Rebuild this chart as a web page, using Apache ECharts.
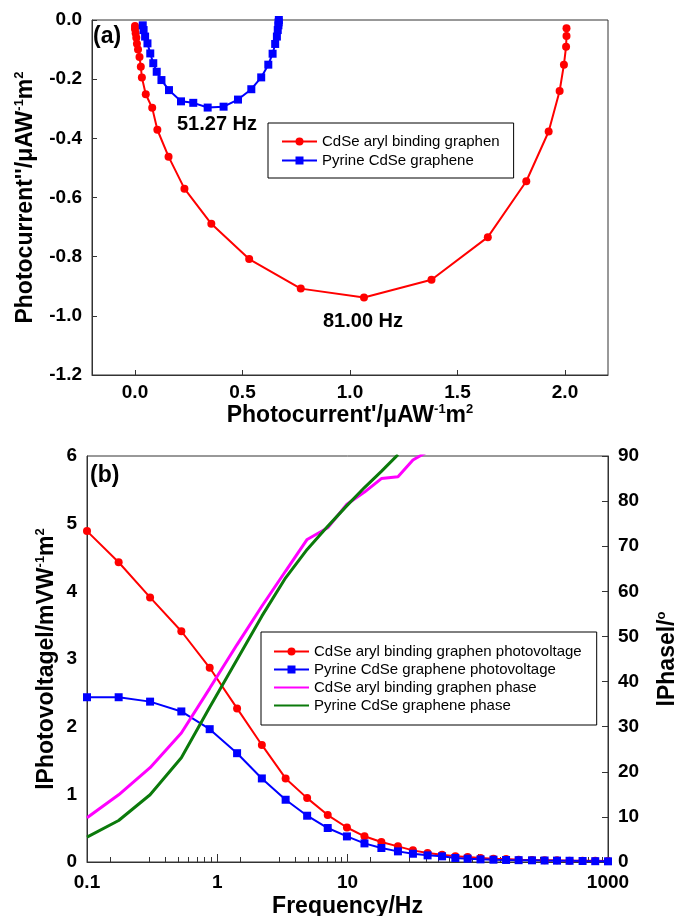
<!DOCTYPE html>
<html>
<head>
<meta charset="utf-8">
<script src="https://cdn.jsdelivr.net/npm/echarts@6.0.0/dist/echarts.min.js"></script>
<style>
html,body{margin:0;padding:0;background:#fff;}
#main{width:675px;height:916px;}
</style>
</head>
<body>
<div id="main"></div>
<script>
// ---- Panel (a): Nyquist-type plot ----
const aRedRe  = [0.000, 0.000, 0.003, 0.006, 0.009, 0.014, 0.021, 0.027, 0.032, 0.050, 0.080, 0.104, 0.156, 0.230, 0.355, 0.531, 0.771, 1.065, 1.379, 1.641, 1.820, 1.924, 1.975, 1.995, 2.005, 2.007, 2.007];
const aRedIm  = [-0.020, -0.030, -0.045, -0.060, -0.080, -0.100, -0.125, -0.158, -0.194, -0.251, -0.297, -0.371, -0.462, -0.570, -0.689, -0.808, -0.908, -0.938, -0.878, -0.734, -0.545, -0.377, -0.240, -0.151, -0.090, -0.054, -0.028];
const aBlueRe = [0.036, 0.040, 0.047, 0.058, 0.071, 0.085, 0.101, 0.123, 0.158, 0.214, 0.271, 0.338, 0.412, 0.479, 0.541, 0.587, 0.620, 0.640, 0.652, 0.660, 0.664, 0.667, 0.668, 0.669];
const aBlueIm = [-0.018, -0.034, -0.056, -0.079, -0.113, -0.146, -0.175, -0.203, -0.237, -0.275, -0.280, -0.296, -0.293, -0.269, -0.234, -0.194, -0.151, -0.114, -0.081, -0.056, -0.034, -0.018, -0.008, 0.000];
const aXTicks = [0, 0.5, 1, 1.5, 2];

// ---- Panel (b): Bode-type plot ----
const freq = [0.1, 0.175, 0.305, 0.53, 0.875, 1.42, 2.2, 3.35, 4.9, 7.05, 9.9, 13.5, 18.2, 24.4, 31.8, 41.2, 53.2, 67.3, 83.6, 105, 132, 165, 206, 261, 326, 406, 507, 638, 798, 1000];
const redPV  = [4.89, 4.43, 3.91, 3.41, 2.87, 2.27, 1.73, 1.235, 0.944, 0.694, 0.51, 0.38, 0.295, 0.231, 0.172, 0.133, 0.108, 0.084, 0.074, 0.059, 0.049, 0.044, 0.034, 0.030, 0.025, 0.025, 0.020, 0.020, 0.020, 0.015];
const bluePV = [2.435, 2.435, 2.37, 2.225, 1.963, 1.608, 1.235, 0.92, 0.684, 0.502, 0.378, 0.275, 0.207, 0.157, 0.122, 0.098, 0.084, 0.059, 0.049, 0.039, 0.034, 0.030, 0.027, 0.025, 0.022, 0.020, 0.018, 0.015, 0.012, 0.010];
const magentaPhase = [9.8, 14.9, 20.9, 28.6, 38.5, 48.2, 56.7, 64.5, 71.5, 74.1, 79.3, 82.0, 85.0, 85.4, 89.1, 91.0];
const greenPhase   = [5.5, 9.2, 14.9, 23.1, 34.3, 44.9, 54.5, 63.0, 69.3, 74.4, 79.0, 83.0, 86.6, 90.3];
const bMinorTicks = [0.15, 0.3, 0.4, 0.5, 0.6, 0.7, 0.8, 0.9, 1.5, 3, 4, 5, 6, 7, 8, 9, 15, 30, 40, 50, 60, 70, 80, 90, 150, 300, 400, 500, 600, 700, 800, 900];

const names = {
  aRed: 'CdSe aryl binding graphen',
  aBlue: 'Pyrine CdSe graphene',
  bRed: 'CdSe aryl binding graphen photovoltage',
  bBlue: 'Pyrine CdSe graphene photovoltage',
  bMag: 'CdSe aryl binding graphen phase',
  bGreen: 'Pyrine CdSe graphene phase'
};

const F = '"Liberation Sans", Arial, Helvetica, sans-serif';
const AX = '#333';
const labelStyle = {color: '#000', fontSize: 19, fontWeight: 'bold', fontFamily: F};
const titleStyle = {
  color: '#000', fontSize: 23, fontWeight: 'bold', fontFamily: F, lineHeight: 25,
  rich: { s: {fontSize: 13, fontWeight: 'bold', fontFamily: F, color: '#000', verticalAlign: 'top', lineHeight: 25} }
};
const hiddenSymbol = {opacity: 0, color: 'rgba(0,0,0,0)', borderWidth: 0};

const pairs = (xs, ys) => ys.map((y, i) => [xs[i], y]);

const chart = echarts.init(document.getElementById('main'), null, {renderer: 'canvas'});
chart.setOption({
  animation: false,
  backgroundColor: '#fff',
  grid: [
    {left: 92, top: 20, width: 516, height: 355, show: true, borderColor: AX, borderWidth: 1, backgroundColor: 'transparent', outerBoundsMode: 'none', containLabel: false},
    {left: 87, top: 456, width: 521, height: 406, show: true, borderColor: AX, borderWidth: 1, backgroundColor: 'transparent', outerBoundsMode: 'none', containLabel: false}
  ],
  legend: [
    {
      data: [names.aRed, names.aBlue],
      orient: 'vertical', left: 268, top: 123,
      padding: [11, 14, 10, 13], itemGap: 4, itemWidth: 35, itemHeight: 10,
      borderColor: '#000', borderWidth: 1, backgroundColor: '#fff',
      textStyle: {color: '#000', fontSize: 15, fontFamily: F}
    },
    {
      data: [names.bRed, names.bBlue, {name: names.bMag, itemStyle: hiddenSymbol}, {name: names.bGreen, itemStyle: hiddenSymbol}],
      orient: 'vertical', left: 261, top: 632,
      padding: [12, 15, 12, 12], itemGap: 3, itemWidth: 35, itemHeight: 10,
      borderColor: '#000', borderWidth: 1, backgroundColor: '#fff',
      textStyle: {color: '#000', fontSize: 15, fontFamily: F}
    }
  ],
  xAxis: [
    {
      gridIndex: 0, type: 'value', min: -0.2, max: 2.2,
      axisLine: {onZero: false, lineStyle: {color: AX, width: 1}},
      axisTick: {inside: true, length: 5, customValues: aXTicks, lineStyle: {color: AX}},
      axisLabel: Object.assign({customValues: aXTicks, margin: 8, formatter: v => v.toFixed(1)}, labelStyle),
      splitLine: {show: false},
      name: "Photocurrent'/μAW{s|-1}m{s|2}", nameLocation: 'middle', nameGap: 25,
      nameTextStyle: titleStyle
    },
    {
      gridIndex: 1, type: 'log', logBase: 10, min: 0.1, max: 1000,
      axisLine: {onZero: false, lineStyle: {color: AX, width: 1}},
      axisTick: {inside: true, length: 8, lineStyle: {color: AX}},
      axisLabel: Object.assign({margin: 11, formatter: v => String(v)}, labelStyle),
      splitLine: {show: false},
      name: 'Frequency/Hz', nameLocation: 'middle', nameGap: 32,
      nameTextStyle: titleStyle
    },
    {
      gridIndex: 1, type: 'log', logBase: 10, min: 0.1, max: 1000,
      position: 'top', offset: -406,
      axisLine: {show: false, onZero: false},
      axisTick: {show: true, inside: false, length: 5, customValues: bMinorTicks, lineStyle: {color: AX}},
      axisLabel: {show: false},
      splitLine: {show: false}
    }
  ],
  yAxis: [
    {
      gridIndex: 0, type: 'value', min: -1.2, max: 0, interval: 0.2,
      axisLine: {onZero: false, lineStyle: {color: AX, width: 1}},
      axisTick: {inside: true, length: 5, lineStyle: {color: AX}},
      axisLabel: Object.assign({margin: 10, formatter: v => v.toFixed(1)}, labelStyle),
      splitLine: {show: false},
      name: "Photocurrent''/μAW{s|-1}m{s|2}", nameLocation: 'middle', nameGap: 53,
      nameTextStyle: titleStyle
    },
    {
      gridIndex: 1, type: 'value', min: 0, max: 6, interval: 1,
      axisLine: {onZero: false, lineStyle: {color: AX, width: 1}},
      axisTick: {show: false},
      axisLabel: Object.assign({margin: 10}, labelStyle),
      splitLine: {show: false},
      name: 'lPhotovoltagel/mVW{s|-1}m{s|2}', nameLocation: 'middle', nameGap: 28,
      nameMoveOverlap: false,
      nameTextStyle: titleStyle
    },
    {
      gridIndex: 1, type: 'value', position: 'right', min: 0, max: 90, interval: 10,
      axisLine: {show: true, onZero: false, lineStyle: {color: AX, width: 1}},
      axisTick: {show: true, inside: true, length: 6, lineStyle: {color: AX}},
      axisLabel: Object.assign({margin: 10}, labelStyle),
      splitLine: {show: false},
      name: 'lPhasel/{s|o}', nameLocation: 'middle', nameGap: 47,
      nameTextStyle: titleStyle
    }
  ],
  series: [
    {
      name: names.aRed, type: 'line', xAxisIndex: 0, yAxisIndex: 0,
      data: pairs(aRedRe, aRedIm),
      symbol: 'circle', symbolSize: 8, showAllSymbol: true,
      lineStyle: {color: '#ff0000', width: 2}, itemStyle: {color: '#ff0000'}
    },
    {
      name: names.aBlue, type: 'line', xAxisIndex: 0, yAxisIndex: 0,
      data: pairs(aBlueRe, aBlueIm),
      symbol: 'rect', symbolSize: 8, showAllSymbol: true,
      lineStyle: {color: '#0000ff', width: 2}, itemStyle: {color: '#0000ff'}
    },
    {
      name: names.bRed, type: 'line', xAxisIndex: 1, yAxisIndex: 1,
      data: pairs(freq, redPV),
      symbol: 'circle', symbolSize: 8, showAllSymbol: true,
      lineStyle: {color: '#ff0000', width: 2}, itemStyle: {color: '#ff0000'}
    },
    {
      name: names.bBlue, type: 'line', xAxisIndex: 1, yAxisIndex: 1,
      data: pairs(freq, bluePV),
      symbol: 'rect', symbolSize: 8, showAllSymbol: true,
      lineStyle: {color: '#0000ff', width: 2}, itemStyle: {color: '#0000ff'}
    },
    {
      name: names.bMag, type: 'line', xAxisIndex: 1, yAxisIndex: 2,
      data: pairs(freq, magentaPhase),
      symbol: 'circle', showSymbol: false, clip: true,
      lineStyle: {color: '#ff00ff', width: 3}, itemStyle: {color: '#ff00ff'}
    },
    {
      name: names.bGreen, type: 'line', xAxisIndex: 1, yAxisIndex: 2,
      data: pairs(freq, greenPhase),
      symbol: 'circle', showSymbol: false, clip: true,
      lineStyle: {color: '#0b7a0b', width: 3}, itemStyle: {color: '#0b7a0b'}
    }
  ],
  graphic: [
    {type: 'text', x: 93, y: 37, z: 100, style: {text: '(a)', fill: '#000', font: 'bold 23px ' + F, verticalAlign: 'middle', align: 'left'}},
    {type: 'text', x: 90, y: 476, z: 100, style: {text: '(b)', fill: '#000', font: 'bold 23px ' + F, verticalAlign: 'middle', align: 'left'}},
    {type: 'text', x: 217, y: 124, z: 100, style: {text: '51.27 Hz', fill: '#000', font: 'bold 20px ' + F, verticalAlign: 'middle', align: 'center'}},
    {type: 'text', x: 363, y: 321, z: 100, style: {text: '81.00 Hz', fill: '#000', font: 'bold 20px ' + F, verticalAlign: 'middle', align: 'center'}}
  ]
});
</script>
</body>
</html>
